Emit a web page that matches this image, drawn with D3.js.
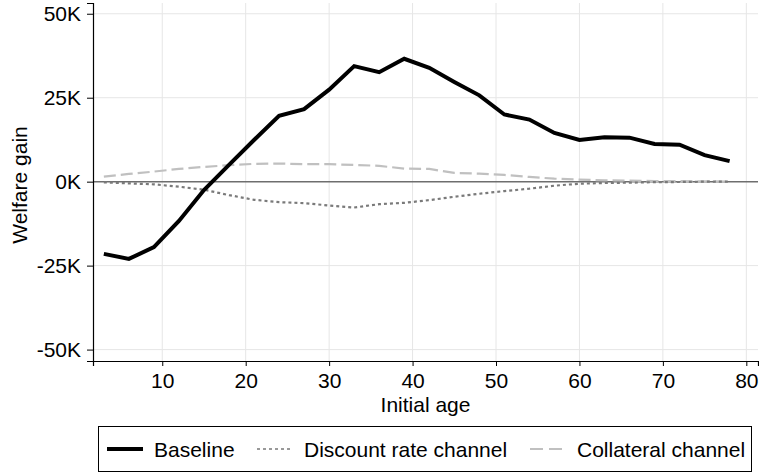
<!DOCTYPE html>
<html>
<head>
<meta charset="utf-8">
<script src="https://cdn.jsdelivr.net/npm/d3@7"></script>
<style>
  body { margin: 0; background: #fff; }
  svg { font-family: "Liberation Sans", Arial, Helvetica, sans-serif; }
</style>
</head>
<body>
<svg id="chart" width="759" height="473"></svg>
<script>
// initial ages (every 3 years)
var ages = [3, 6, 9, 12, 15, 18, 21, 24, 27, 30, 33, 36, 39, 42, 45, 48, 51, 54, 57, 60, 63, 66, 69, 72, 75, 78];
// welfare gain, in dollars
var baseline = [-21500, -23000, -19500, -11700, -2500, 5000, 12400, 19600, 21600, 27400, 34400, 32600, 36600, 33900, 29700, 25700, 20000, 18500, 14500, 12400, 13200, 13100, 11200, 11000, 7900, 6100];
var discount = [-200, -500, -800, -1500, -2400, -4000, -5400, -6100, -6400, -7100, -7700, -6700, -6300, -5500, -4500, -3600, -2800, -2100, -1200, -600, -400, -300, -150, -100, 0, 0];
var collateral = [1500, 2300, 3000, 3800, 4400, 4900, 5300, 5400, 5200, 5200, 5000, 4700, 3900, 3800, 2600, 2400, 2000, 1400, 900, 600, 400, 300, 200, 150, 100, 50];
var xTicks = [10, 20, 30, 40, 50, 60, 70, 80];
var yTicks = [-50000, -25000, 0, 25000, 50000];
var seriesNames = ["Baseline", "Discount rate channel", "Collateral channel"];

var margin = {top: 3, right: 1, bottom: 112, left: 93};
var width = 759 - margin.left - margin.right,
    height = 473 - margin.top - margin.bottom;
var fontSize = "21px";

var svg = d3.select("#chart")
    .append("g")
    .attr("transform", "translate(" + margin.left + "," + margin.top + ")");

var x = d3.scaleLinear().domain([1.7, 81.4]).range([0, width]);
var y = d3.scaleLinear().domain([-53400, 53200]).range([height, 0]);

// gridlines
svg.append("g").selectAll("line.vg")
    .data(xTicks).enter().append("line")
    .attr("x1", function (d) { return x(d); })
    .attr("x2", function (d) { return x(d); })
    .attr("y1", 0).attr("y2", height)
    .style("stroke", "#e6e6e6").style("stroke-width", 1);
svg.append("g").selectAll("line.hg")
    .data(yTicks.filter(function (d) { return d !== 0; })).enter().append("line")
    .attr("x1", 0).attr("x2", width)
    .attr("y1", function (d) { return y(d); })
    .attr("y2", function (d) { return y(d); })
    .style("stroke", "#e6e6e6").style("stroke-width", 1);

// zero line
svg.append("line")
    .attr("x1", 0).attr("x2", width)
    .attr("y1", y(0)).attr("y2", y(0))
    .style("stroke", "#6e6e6e").style("stroke-width", 1.5);

// axes
var xAxis = svg.append("g")
    .attr("transform", "translate(0," + height + ")")
    .call(d3.axisBottom(x).tickValues(xTicks).tickSize(5).tickPadding(7));
var yAxis = svg.append("g")
    .call(d3.axisLeft(y).tickValues(yTicks).tickSize(6).tickPadding(6)
        .tickFormat(function (d) { return (d / 1000) + "K"; }));
[xAxis, yAxis].forEach(function (a) {
    a.select(".domain").style("stroke", "#000").style("stroke-width", 1.2);
    a.selectAll(".tick line").style("stroke", "#000");
    a.selectAll(".tick text").style("font-size", fontSize).style("fill", "#000")
        .style("font-family", "\"Liberation Sans\", Arial, sans-serif");
});

// axis titles
svg.append("text")
    .attr("x", width / 2).attr("y", height + 51)
    .attr("text-anchor", "middle")
    .style("font-size", fontSize)
    .text("Initial age");
svg.append("text")
    .attr("transform", "translate(" + (-66) + "," + 182 + ") rotate(-90)")
    .attr("text-anchor", "middle")
    .style("font-size", fontSize)
    .text("Welfare gain");

var line = d3.line()
    .x(function (d) { return x(d[0]); })
    .y(function (d) { return y(d[1]); });

var styles = [
    {color: "#000", width: 4, dash: null},
    {color: "#7a7a7a", width: 2.2, dash: "3,3"},
    {color: "#c0c0c0", width: 2.2, dash: "12,5"}
];
var seriesData = [baseline, discount, collateral];

// draw back to front
[2, 1, 0].forEach(function (i) {
    svg.append("path")
        .datum(ages.map(function (a, j) { return [a, seriesData[i][j]]; }))
        .attr("d", line)
        .style("fill", "none")
        .style("stroke", styles[i].color)
        .style("stroke-width", styles[i].width)
        .style("stroke-dasharray", styles[i].dash)
        .style("stroke-linejoin", "miter");
});

// legend
var legend = d3.select("#chart").append("g");
legend.append("rect")
    .attr("x", 98.5).attr("y", 426.5)
    .attr("width", 653).attr("height", 45)
    .style("fill", "#fff").style("stroke", "#000").style("stroke-width", 1);
var legX = [107, 257, 530];
seriesNames.forEach(function (name, i) {
    legend.append("line")
        .attr("x1", legX[i]).attr("x2", legX[i] + 36)
        .attr("y1", 449).attr("y2", 449)
        .style("stroke", i === 1 ? "#999" : styles[i].color)
        .style("stroke-width", i === 0 ? 4 : 2)
        .style("stroke-dasharray", i === 1 ? "3,3" : (i === 2 ? "13,6" : null));
    legend.append("text")
        .attr("x", legX[i] + 47).attr("y", 457)
        .style("font-size", fontSize)
        .text(name);
});
</script>
</body>
</html>
